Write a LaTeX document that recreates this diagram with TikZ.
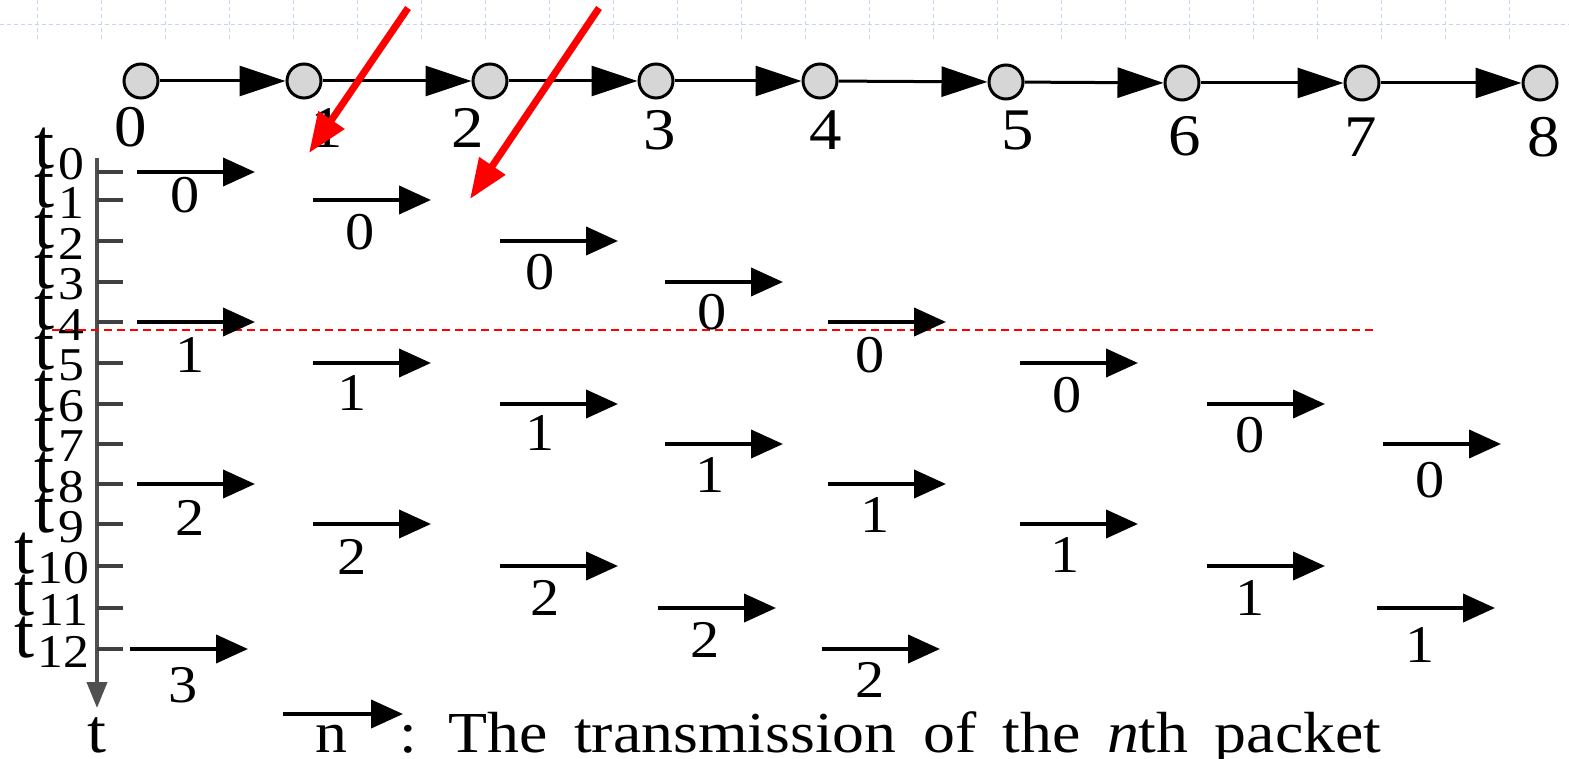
\documentclass[tikz,border=0pt]{standalone}
\usepackage{fontspec}
\usepackage{graphicx}
\setmainfont{Liberation Serif}
\usetikzlibrary{arrows.meta}
\definecolor{hopfill}{RGB}{214,214,214}
\definecolor{gridblue}{RGB}{200,212,245}
\definecolor{axisgray}{RGB}{80,80,80}
\newcommand{\hstr}[1]{\scalebox{1.1}[1]{#1}}
\begin{document}
\begin{tikzpicture}[x=1pt,y=-1pt,
  hop/.style={circle,draw=black,fill=hopfill,line width=3pt,minimum size=34pt,inner sep=0pt},
  chain/.style={line width=3pt,-{Triangle[length=46pt,width=30pt]}},
  pkt/.style={line width=4pt,-{Triangle[length=32pt,width=28pt]}},
  redarr/.style={red,line width=7pt,-{Triangle[length=40pt,width=30pt]}},
  taxis/.style={axisgray,line width=4pt,-{Triangle[length=26pt,width=20pt]}},
  tick/.style={black!75,line width=3.5pt},
  lbl/.style={inner sep=0pt,font=\fontsize{53}{53}\selectfont},
  toplbl/.style={inner sep=0pt,font=\fontsize{59}{59}\selectfont},
  tglyph/.style={inner sep=0pt,anchor=base west,font=\fontsize{72}{72}\selectfont},
  tsub/.style={inner sep=0pt,font=\fontsize{47}{47}\selectfont},
  legend/.style={inner sep=0pt,anchor=base west,font=\fontsize{58}{58}\selectfont},
  bgrid/.style={gridblue,line width=1pt,dash pattern=on 4pt off 3pt},
  reddash/.style={red,line width=2pt,dash pattern=on 8pt off 5pt}
]
\useasboundingbox (0,0) rectangle (1569,759);
\fill[white] (0,0) rectangle (1569,759);
% faint background grid at top
\draw[bgrid] (0,25) -- (1569,25);
\foreach \k in {0,...,23} \draw[bgrid] (37+64*\k,0) -- (37+64*\k,40);

% top chain of hops
\foreach \k/\x/\y/\lx/\ly in {0/141/81/131/127,1/304/81/327/128,2/490/81/468/128,3/656/81/660/130,4/820/81/826/130,5/1006/82/1018/130,6/1182/83/1185/136,7/1362/83/1361/137,8/1540/83/1544/137}{
  \node[hop] (h\k) at (\x,\y) {};
  \node[toplbl] (hl\k) at (\lx,\ly) {\hstr{\k}};
}
\foreach \a/\b in {0/1,1/2,2/3,3/4,4/5,5/6,6/7,7/8} \draw[chain] (h\a) -- (h\b);

% time axis
\coordinate (ax0) at (97,158);
\coordinate (ax1) at (97,708);
\draw[taxis] (ax0) -- (ax1);
\node[legend,anchor=base,font=\fontsize{62}{62}\selectfont] (tlab) at (97,752) {\hstr{t}};

% ticks and t labels
\foreach \k/\ty/\sc in {0/172/164,1/200/203,2/241/244,3/282/284,4/322/325,5/363/365,6/404/406,7/444/446,8/484/487,9/524/527}{
  \coordinate (tk\k a) at (97,\ty);
  \coordinate (tk\k b) at (123,\ty);
  \draw[tick] (tk\k a) -- (tk\k b);
  \node[tglyph] (tt\k) at (34,\sc+5) {t};
  \node[tsub] (ts\k) at (71,\sc) {\hstr{\k}};
}
\foreach \k/\ty/\sc in {10/566/568,11/608/610,12/649/652}{
  \coordinate (tk\k a) at (97,\ty);
  \coordinate (tk\k b) at (123,\ty);
  \draw[tick] (tk\k a) -- (tk\k b);
  \node[tglyph] (tt\k) at (14,\sc+5) {t};
  \node[tsub] (ts\k) at (63,\sc) {\hstr{\k}};
}

% red dashed line at t4
\coordinate (rd0) at (52,330);
\coordinate (rd1) at (1377,330);
\draw[reddash] (rd0) -- (rd1);

% packet transmissions
\foreach \sx/\y/\lx/\ly/\n [count=\i] in {
  137/172/185/195/0, 313/200/360/232/0, 500/241/540/272/0, 665/282/712/312/0,
  828/322/870/355/0, 1020/363/1067/395/0, 1207/404/1250/435/0, 1383/444/1430/480/0,
  137/322/190/355/1, 313/363/352/393/1, 500/404/540/433/1, 665/444/710/475/1,
  828/484/875/515/1, 1020/524/1065/555/1, 1207/566/1250/598/1, 1377/608/1420/645/1,
  137/484/190/518/2, 313/524/352/557/2, 500/566/545/598/2, 658/608/705/640/2,
  822/649/870/680/2, 130/649/183/685/3}{
  \coordinate (p\i s) at (\sx,\y);
  \coordinate (p\i e) at (\sx+118,\y);
  \draw[pkt] (p\i s) -- (p\i e);
  \node[lbl] (pl\i) at (\lx,\ly) {\hstr{\n}};
}

% red pointer arrows
\coordinate (r1a) at (408,8);
\coordinate (r1b) at (309,153);
\coordinate (r2a) at (599,8);
\coordinate (r2b) at (470,199);
\draw[redarr] (r1a) -- (r1b);
\draw[redarr] (r2a) -- (r2b);

% legend
\coordinate (lg0) at (283,714);
\coordinate (lg1) at (403,714);
\draw[pkt] (lg0) -- (lg1);
\node[legend,anchor=base] (lgn) at (331,752) {\hstr{n}};
\node[legend] (lgt) at (399,752) {\hstr{\spaceskip=24pt : The transmission of the \textit{n}th packet}};
\end{tikzpicture}
\end{document}
